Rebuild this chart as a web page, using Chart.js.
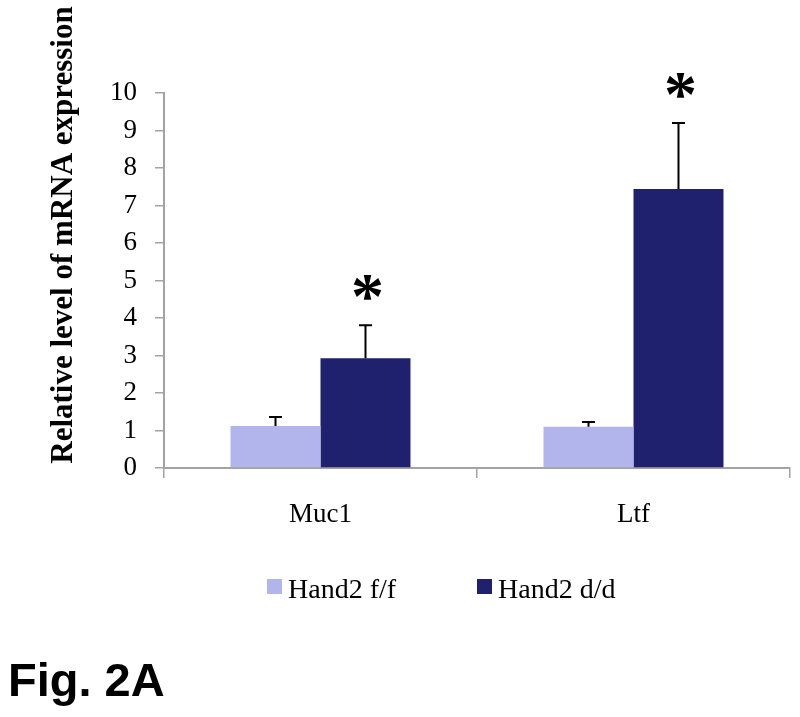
<!DOCTYPE html>
<html>
<head>
<meta charset="utf-8">
<script src="https://cdn.jsdelivr.net/npm/chart.js@4"></script>
<style>
  html, body { margin: 0; padding: 0; background: #fff; }
  #wrap { position: relative; width: 800px; height: 717px; }
  #fig { position: absolute; left: 8px; top: 652px; font: bold 47px "Liberation Sans", Arial, sans-serif; color: #000; }
</style>
</head>
<body>
<div id="wrap">
  <canvas id="chart" width="800" height="717"></canvas>
  <div id="fig">Fig. 2A</div>
</div>
<script>
// data
const genes = ['Muc1', 'Ltf'];
const seriesNames = ['Hand2 f/f', 'Hand2 d/d'];
const floxValues = [1.12, 1.10];
const floxErrors = [0.24, 0.13];
const deltaValues = [2.93, 7.44];
const deltaErrors = [0.88, 1.76];
const significant = [true, true]; // asterisk over d/d bar
const yTicks = [0, 1, 2, 3, 4, 5, 6, 7, 8, 9, 10];

const serif = '"Liberation Serif", "Times New Roman", serif';
const axisGrey = '#a3a3a3';

// error bars (upper only) + asterisks
const errorBars = {
    id: 'errorBars',
    afterDatasetsDraw(chart) {
        const c = chart.ctx;
        const y = chart.scales.y;
        c.save();
        c.strokeStyle = '#000';
        c.lineWidth = 2;
        chart.data.datasets.forEach(function(ds, i) {
            const meta = chart.getDatasetMeta(i);
            meta.data.forEach(function(bar, j) {
                const top = y.getPixelForValue(ds.data[j] + ds.errors[j]);
                c.beginPath();
                c.moveTo(bar.x, bar.y);
                c.lineTo(bar.x, top);
                c.moveTo(bar.x - 6.5, top);
                c.lineTo(bar.x + 6.5, top);
                c.stroke();
                if (ds.stars && ds.stars[j]) {
                    c.fillStyle = '#000';
                    c.font = 'bold 66px ' + serif;
                    c.textAlign = 'center';
                    c.textBaseline = 'alphabetic';
                    c.fillText('*', bar.x + 2, top - 7);
                }
            });
        });
        c.restore();
    }
};

// y title + legend drawn by hand
const extras = {
    id: 'extras',
    afterDraw(chart) {
        const c = chart.ctx;
        c.save();
        c.fillStyle = '#000';
        c.font = 'bold 31px ' + serif;
        c.textAlign = 'center';
        c.textBaseline = 'alphabetic';
        c.translate(72, 235);
        c.rotate(-Math.PI / 2);
        c.fillText('Relative level of mRNA expression', 0, 0);
        c.restore();

        const xs = [267, 477];
        c.save();
        c.font = '28px ' + serif;
        c.textBaseline = 'alphabetic';
        chart.data.datasets.forEach(function(ds, i) {
            c.fillStyle = ds.backgroundColor;
            c.fillRect(xs[i], 579, 15, 15);
            c.fillStyle = '#000';
            c.fillText(ds.label, xs[i] + 21, 598);
        });
        c.restore();
    }
};

new Chart(document.getElementById('chart'), {
    type: 'bar',
    data: {
        labels: genes,
        datasets: [{
            label: seriesNames[0],
            data: floxValues,
            errors: floxErrors,
            backgroundColor: '#b2b4ec'
        }, {
            label: seriesNames[1],
            data: deltaValues,
            errors: deltaErrors,
            stars: significant,
            backgroundColor: '#1f216e'
        }]
    },
    options: {
        responsive: false,
        animation: false,
        devicePixelRatio: 1,
        layout: { padding: { top: 93, right: 10, left: 0, bottom: 0 } },
        datasets: { bar: { categoryPercentage: 0.575, barPercentage: 1 } },
        plugins: { legend: { display: false }, tooltip: { enabled: false } },
        scales: {
            x: {
                afterFit(s) { s.height = 249; },
                grid: { offset: true, drawOnChartArea: false, tickLength: 10, color: axisGrey, lineWidth: 1.5 },
                border: { color: axisGrey, width: 2 },
                ticks: { color: '#000', padding: 21, font: { family: serif, size: 27 } }
            },
            y: {
                min: 0,
                max: 10,
                afterFit(s) { s.width = 164; },
                afterBuildTicks(s) { s.ticks = yTicks.map(v => ({ value: v })); },
                grid: { drawOnChartArea: false, tickLength: 9, color: axisGrey, lineWidth: 1.5 },
                border: { color: axisGrey, width: 2 },
                ticks: { color: '#000', padding: 18, font: { family: serif, size: 27 } }
            }
        }
    },
    plugins: [errorBars, extras]
});
</script>
</body>
</html>
